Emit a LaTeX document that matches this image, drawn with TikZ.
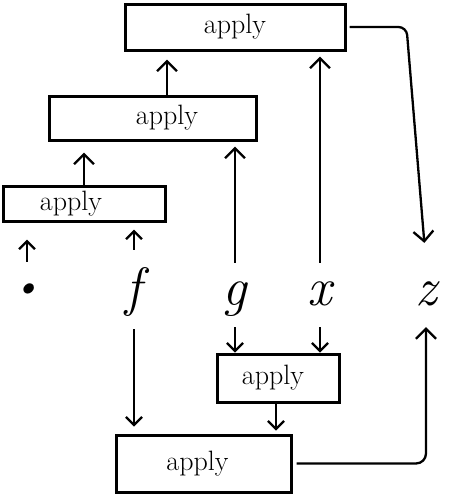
\documentclass[tikz,border=0pt]{standalone}
\usepackage{fontspec}
\usetikzlibrary{arrows.meta,positioning}
\begin{document}
\begin{tikzpicture}[x=1pt,y=-1pt,>={Straight Barb[length=10pt,width=20pt]},
  applybox/.style={draw,line width=3pt,inner sep=0pt,font=\fontsize{28}{32}\selectfont},
  leaf/.style={inner sep=0pt,text height=42pt,text depth=22pt,font=\fontsize{54}{58}\selectfont\itshape},
  arrow/.style={->,line width=2.3pt},
  tinyarrow/.style={arrow,-{Straight Barb[length=8pt,width=16pt]}}]
\useasboundingbox (0,0) rectangle (450,496);
\node[applybox,minimum width=220pt,minimum height=46pt] (top) at (235,27) {apply};
\node[applybox,minimum width=207pt,minimum height=44pt] (mid) at (152.5,118) {\hspace*{29pt}apply};
\node[applybox,minimum width=162pt,minimum height=35pt] (left) at (84,203.5) {apply\hspace*{26pt}};
\node[applybox,minimum width=122pt,minimum height=48pt] (small) at (278,378) {apply\hspace*{10pt}};
\node[applybox,minimum width=175pt,minimum height=57pt] (bot) at (203.5,463.5) {apply\hspace*{12pt}};
\node[leaf] (dot) at (27,295) {\raisebox{8pt}{\fontsize{36}{40}\selectfont\textbullet}};
\node[leaf] (f) at (134,295) {f};
\node[leaf] (g) at (235,295) {g};
\node[leaf] (x) at (320,295) {x};
\node[leaf] (z) at (426,295) {z};
\draw[arrow,shorten >=8pt] ([xshift=14.5pt]mid.north) -- ([xshift=14.5pt]mid.north |- top.south);
\draw[arrow,shorten >=11pt] (left.north) -- (left.north |- mid.south);
\draw[arrow,shorten >=5pt] (g.north) -- (g.north |- mid.south);
\draw[arrow,shorten >=5pt] (x.north) -- (x.north |- top.south);
\draw[tinyarrow,shorten <=13pt,shorten >=7pt] (f.north) -- (f.north |- left.south);
\draw[tinyarrow,shorten <=1pt,shorten >=17pt] (dot.north) -- (dot.north |- left.south);
\draw[arrow,rounded corners=8pt,shorten <=3pt,shorten >=20pt] (top.east) -- ++(60,0) -- (z.north);
\draw[tinyarrow,shorten <=2pt,shorten >=7pt] (f.south) -- (f.south |- bot.north);
\draw[tinyarrow] (g.south) -- (g.south |- small.north);
\draw[tinyarrow] (x.south) -- (x.south |- small.north);
\draw[tinyarrow,shorten >=3pt] ([xshift=-2pt]small.south) -- ([xshift=-2pt]small.south |- bot.north);
\draw[arrow,rounded corners=10pt,shorten <=4pt] (bot.east) -| (z.south);
\end{tikzpicture}
\end{document}
